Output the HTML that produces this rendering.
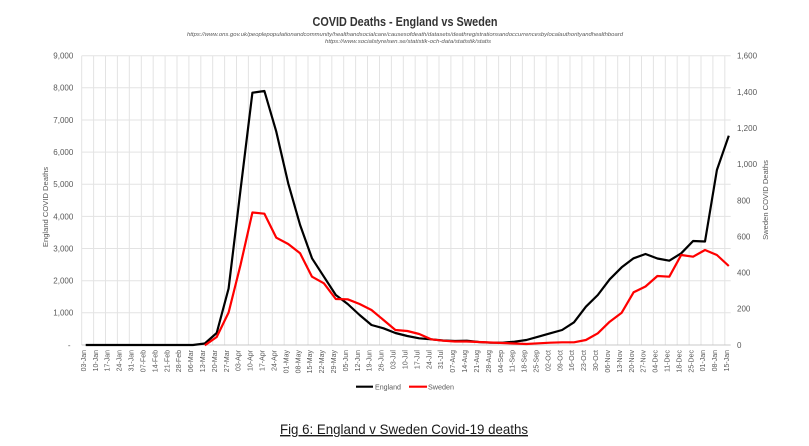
<!DOCTYPE html>
<html>
<head>
<meta charset="utf-8">
<style>
html,body{margin:0;padding:0;background:#fff;}
svg{display:block;}
text{font-family:"Liberation Sans",sans-serif;}
</style>
</head>
<body>
<svg width="809" height="446" viewBox="0 0 809 446" xmlns="http://www.w3.org/2000/svg">
<rect width="809" height="446" fill="#fff"/>

<!-- Title -->
<text x="405" y="26" text-anchor="middle" font-size="13" font-weight="bold" fill="#333" textLength="185" lengthAdjust="spacingAndGlyphs">COVID Deaths - England vs Sweden</text>
<text x="405" y="36" text-anchor="middle" font-size="5.5" font-style="italic" fill="#595959" textLength="436" lengthAdjust="spacingAndGlyphs">https://www.ons.gov.uk/peoplepopulationandcommunity/healthandsocialcare/causesofdeath/datasets/deathregistrationsandoccurrencesbylocalauthorityandhealthboard</text>
<text x="408" y="43" text-anchor="middle" font-size="5.5" font-style="italic" fill="#595959" textLength="166" lengthAdjust="spacingAndGlyphs">https://www.socialstyrelsen.se/statistik-och-data/statistik/statis</text>

<!-- Horizontal gridlines -->
<g stroke="#e3e3e3" stroke-width="1">
<line x1="81.7" y1="55.7" x2="730.7" y2="55.7"/>
<line x1="81.7" y1="87.8" x2="730.7" y2="87.8"/>
<line x1="81.7" y1="120" x2="730.7" y2="120"/>
<line x1="81.7" y1="152.1" x2="730.7" y2="152.1"/>
<line x1="81.7" y1="184.3" x2="730.7" y2="184.3"/>
<line x1="81.7" y1="216.4" x2="730.7" y2="216.4"/>
<line x1="81.7" y1="248.5" x2="730.7" y2="248.5"/>
<line x1="81.7" y1="280.7" x2="730.7" y2="280.7"/>
<line x1="81.7" y1="312.8" x2="730.7" y2="312.8"/>
</g>

<!-- Vertical gridlines -->
<g stroke="#e3e3e3" stroke-width="1">
<line x1="81.7" y1="55.7" x2="81.7" y2="345"/>
<line x1="93.6" y1="55.7" x2="93.6" y2="345"/>
<line x1="105.5" y1="55.7" x2="105.5" y2="345"/>
<line x1="117.4" y1="55.7" x2="117.4" y2="345"/>
<line x1="129.3" y1="55.7" x2="129.3" y2="345"/>
<line x1="141.3" y1="55.7" x2="141.3" y2="345"/>
<line x1="153.2" y1="55.7" x2="153.2" y2="345"/>
<line x1="165.1" y1="55.7" x2="165.1" y2="345"/>
<line x1="177" y1="55.7" x2="177" y2="345"/>
<line x1="188.9" y1="55.7" x2="188.9" y2="345"/>
<line x1="200.8" y1="55.7" x2="200.8" y2="345"/>
<line x1="212.7" y1="55.7" x2="212.7" y2="345"/>
<line x1="224.6" y1="55.7" x2="224.6" y2="345"/>
<line x1="236.5" y1="55.7" x2="236.5" y2="345"/>
<line x1="248.4" y1="55.7" x2="248.4" y2="345"/>
<line x1="260.4" y1="55.7" x2="260.4" y2="345"/>
<line x1="272.3" y1="55.7" x2="272.3" y2="345"/>
<line x1="284.2" y1="55.7" x2="284.2" y2="345"/>
<line x1="296.1" y1="55.7" x2="296.1" y2="345"/>
<line x1="308" y1="55.7" x2="308" y2="345"/>
<line x1="319.9" y1="55.7" x2="319.9" y2="345"/>
<line x1="331.8" y1="55.7" x2="331.8" y2="345"/>
<line x1="343.7" y1="55.7" x2="343.7" y2="345"/>
<line x1="355.6" y1="55.7" x2="355.6" y2="345"/>
<line x1="367.5" y1="55.7" x2="367.5" y2="345"/>
<line x1="379.5" y1="55.7" x2="379.5" y2="345"/>
<line x1="391.4" y1="55.7" x2="391.4" y2="345"/>
<line x1="403.3" y1="55.7" x2="403.3" y2="345"/>
<line x1="415.2" y1="55.7" x2="415.2" y2="345"/>
<line x1="427.1" y1="55.7" x2="427.1" y2="345"/>
<line x1="439" y1="55.7" x2="439" y2="345"/>
<line x1="450.9" y1="55.7" x2="450.9" y2="345"/>
<line x1="462.8" y1="55.7" x2="462.8" y2="345"/>
<line x1="474.7" y1="55.7" x2="474.7" y2="345"/>
<line x1="486.6" y1="55.7" x2="486.6" y2="345"/>
<line x1="498.6" y1="55.7" x2="498.6" y2="345"/>
<line x1="510.5" y1="55.7" x2="510.5" y2="345"/>
<line x1="522.4" y1="55.7" x2="522.4" y2="345"/>
<line x1="534.3" y1="55.7" x2="534.3" y2="345"/>
<line x1="546.2" y1="55.7" x2="546.2" y2="345"/>
<line x1="558.1" y1="55.7" x2="558.1" y2="345"/>
<line x1="570" y1="55.7" x2="570" y2="345"/>
<line x1="581.9" y1="55.7" x2="581.9" y2="345"/>
<line x1="593.8" y1="55.7" x2="593.8" y2="345"/>
<line x1="605.7" y1="55.7" x2="605.7" y2="345"/>
<line x1="617.7" y1="55.7" x2="617.7" y2="345"/>
<line x1="629.6" y1="55.7" x2="629.6" y2="345"/>
<line x1="641.5" y1="55.7" x2="641.5" y2="345"/>
<line x1="653.4" y1="55.7" x2="653.4" y2="345"/>
<line x1="665.3" y1="55.7" x2="665.3" y2="345"/>
<line x1="677.2" y1="55.7" x2="677.2" y2="345"/>
<line x1="689.1" y1="55.7" x2="689.1" y2="345"/>
<line x1="701" y1="55.7" x2="701" y2="345"/>
<line x1="712.9" y1="55.7" x2="712.9" y2="345"/>
<line x1="724.8" y1="55.7" x2="724.8" y2="345"/>
</g>

<!-- X axis line -->
<line x1="81.7" y1="345" x2="730.7" y2="345" stroke="#c8c8c8" stroke-width="1"/>

<!-- Left axis labels -->
<g font-size="8" fill="#595959" text-anchor="end">
<text x="73.3" y="58.6">9,000</text>
<text x="73.3" y="90.7">8,000</text>
<text x="73.3" y="122.9">7,000</text>
<text x="73.3" y="155">6,000</text>
<text x="73.3" y="187.2">5,000</text>
<text x="73.3" y="219.3">4,000</text>
<text x="73.3" y="251.4">3,000</text>
<text x="73.3" y="283.6">2,000</text>
<text x="73.3" y="315.7">1,000</text>
<text x="70.5" y="347.9">-</text>
</g>

<!-- Right axis labels -->
<g font-size="8" fill="#595959" text-anchor="start">
<text x="737" y="58.6">1,600</text>
<text x="737" y="94.8">1,400</text>
<text x="737" y="131">1,200</text>
<text x="737" y="167.1">1,000</text>
<text x="737" y="203.3">800</text>
<text x="737" y="239.4">600</text>
<text x="737" y="275.6">400</text>
<text x="737" y="311.7">200</text>
<text x="737" y="347.9">0</text>
</g>

<!-- Axis titles -->
<text transform="translate(47.8,207) rotate(-90)" text-anchor="middle" font-size="7.6" fill="#595959">England COVID Deaths</text>
<text transform="translate(767.8,200) rotate(-90)" text-anchor="middle" font-size="7.6" fill="#595959">Sweden COVID Deaths</text>

<!-- X axis labels -->
<g font-size="7" fill="#595959" text-anchor="end">
<text transform="translate(85.9,350) rotate(-90)">03-Jan</text>
<text transform="translate(97.8,350) rotate(-90)">10-Jan</text>
<text transform="translate(109.7,350) rotate(-90)">17-Jan</text>
<text transform="translate(121.6,350) rotate(-90)">24-Jan</text>
<text transform="translate(133.5,350) rotate(-90)">31-Jan</text>
<text transform="translate(145.5,350) rotate(-90)">07-Feb</text>
<text transform="translate(157.4,350) rotate(-90)">14-Feb</text>
<text transform="translate(169.3,350) rotate(-90)">21-Feb</text>
<text transform="translate(181.2,350) rotate(-90)">28-Feb</text>
<text transform="translate(193.1,350) rotate(-90)">06-Mar</text>
<text transform="translate(205,350) rotate(-90)">13-Mar</text>
<text transform="translate(216.9,350) rotate(-90)">20-Mar</text>
<text transform="translate(228.8,350) rotate(-90)">27-Mar</text>
<text transform="translate(240.7,350) rotate(-90)">03-Apr</text>
<text transform="translate(252.6,350) rotate(-90)">10-Apr</text>
<text transform="translate(264.6,350) rotate(-90)">17-Apr</text>
<text transform="translate(276.5,350) rotate(-90)">24-Apr</text>
<text transform="translate(288.4,350) rotate(-90)">01-May</text>
<text transform="translate(300.3,350) rotate(-90)">08-May</text>
<text transform="translate(312.2,350) rotate(-90)">15-May</text>
<text transform="translate(324.1,350) rotate(-90)">22-May</text>
<text transform="translate(336,350) rotate(-90)">29-May</text>
<text transform="translate(347.9,350) rotate(-90)">05-Jun</text>
<text transform="translate(359.8,350) rotate(-90)">12-Jun</text>
<text transform="translate(371.7,350) rotate(-90)">19-Jun</text>
<text transform="translate(383.7,350) rotate(-90)">26-Jun</text>
<text transform="translate(395.6,350) rotate(-90)">03-Jul</text>
<text transform="translate(407.5,350) rotate(-90)">10-Jul</text>
<text transform="translate(419.4,350) rotate(-90)">17-Jul</text>
<text transform="translate(431.3,350) rotate(-90)">24-Jul</text>
<text transform="translate(443.2,350) rotate(-90)">31-Jul</text>
<text transform="translate(455.1,350) rotate(-90)">07-Aug</text>
<text transform="translate(467,350) rotate(-90)">14-Aug</text>
<text transform="translate(478.9,350) rotate(-90)">21-Aug</text>
<text transform="translate(490.8,350) rotate(-90)">28-Aug</text>
<text transform="translate(502.8,350) rotate(-90)">04-Sep</text>
<text transform="translate(514.7,350) rotate(-90)">11-Sep</text>
<text transform="translate(526.6,350) rotate(-90)">18-Sep</text>
<text transform="translate(538.5,350) rotate(-90)">25-Sep</text>
<text transform="translate(550.4,350) rotate(-90)">02-Oct</text>
<text transform="translate(562.3,350) rotate(-90)">09-Oct</text>
<text transform="translate(574.2,350) rotate(-90)">16-Oct</text>
<text transform="translate(586.1,350) rotate(-90)">23-Oct</text>
<text transform="translate(598,350) rotate(-90)">30-Oct</text>
<text transform="translate(609.9,350) rotate(-90)">06-Nov</text>
<text transform="translate(621.9,350) rotate(-90)">13-Nov</text>
<text transform="translate(633.8,350) rotate(-90)">20-Nov</text>
<text transform="translate(645.7,350) rotate(-90)">27-Nov</text>
<text transform="translate(657.6,350) rotate(-90)">04-Dec</text>
<text transform="translate(669.5,350) rotate(-90)">11-Dec</text>
<text transform="translate(681.4,350) rotate(-90)">18-Dec</text>
<text transform="translate(693.3,350) rotate(-90)">25-Dec</text>
<text transform="translate(705.2,350) rotate(-90)">01-Jan</text>
<text transform="translate(717.1,350) rotate(-90)">08-Jan</text>
<text transform="translate(729,350) rotate(-90)">15-Jan</text>
</g>

<!-- England series -->
<polyline fill="none" stroke="#000" stroke-width="2.2" stroke-linejoin="round" points="85.7,345 97.6,345 109.5,345 121.4,345 133.3,345 145.3,345 157.2,345 169.1,345 181.0,345 192.9,345 204.8,343.5 216.7,333 228.6,288.5 240.5,190 252.4,92.7 264.4,91 276.3,131.7 288.2,183.3 300.1,225 312.0,258.3 323.9,276.7 335.8,295 347.7,304 359.6,315 371.5,325 383.5,328.3 395.4,333 407.3,336 419.2,338.3 431.1,339.3 443.0,340.5 454.9,341 466.8,340.7 478.7,342 490.6,342.7 502.6,342.7 514.5,341.7 526.4,340 538.3,336.7 550.2,333.3 562.1,330 574.0,322.3 585.9,306.7 597.8,295 609.7,279.3 621.7,267.3 633.6,258.3 645.5,254 657.4,258.5 669.3,260.7 681.2,253.3 693.1,241 705.0,241.5 716.9,170 728.8,135.7"/>

<!-- Sweden series -->
<polyline fill="none" stroke="#ff0000" stroke-width="2.2" stroke-linejoin="round" points="204.8,345.3 216.7,337 228.6,312.5 240.5,265 252.4,212.5 264.4,213.7 276.3,237.7 288.2,244 300.1,253.3 312.0,276.7 323.9,283.3 335.8,299 347.7,299.3 359.6,304 371.5,310 383.5,320 395.4,330 407.3,331 419.2,334 431.1,339.3 443.0,340.7 454.9,341.5 466.8,341.5 478.7,342 490.6,342.5 502.6,343 514.5,343.5 526.4,344 538.3,343.3 550.2,342.7 562.1,342.3 574.0,342.3 585.9,340 597.8,333.3 609.7,321.7 621.7,312.7 633.6,292.3 645.5,286.5 657.4,276 669.3,276.7 681.2,255 693.1,256.7 705.0,250 716.9,255 728.8,266"/>

<!-- Legend -->
<line x1="356" y1="386.7" x2="373" y2="386.7" stroke="#000" stroke-width="2.2"/>
<text x="375" y="389.5" font-size="7.2" fill="#595959" textLength="26" lengthAdjust="spacingAndGlyphs">England</text>
<line x1="409" y1="386.7" x2="427" y2="386.7" stroke="#ff0000" stroke-width="2.2"/>
<text x="428" y="389.5" font-size="7.2" fill="#595959" textLength="26" lengthAdjust="spacingAndGlyphs">Sweden</text>

<!-- Caption -->
<text x="280" y="434" font-size="14" fill="#1a1a1a" text-decoration="underline" textLength="248" lengthAdjust="spacingAndGlyphs">Fig 6: England v Sweden Covid-19 deaths</text>
</svg>
</body>
</html>
